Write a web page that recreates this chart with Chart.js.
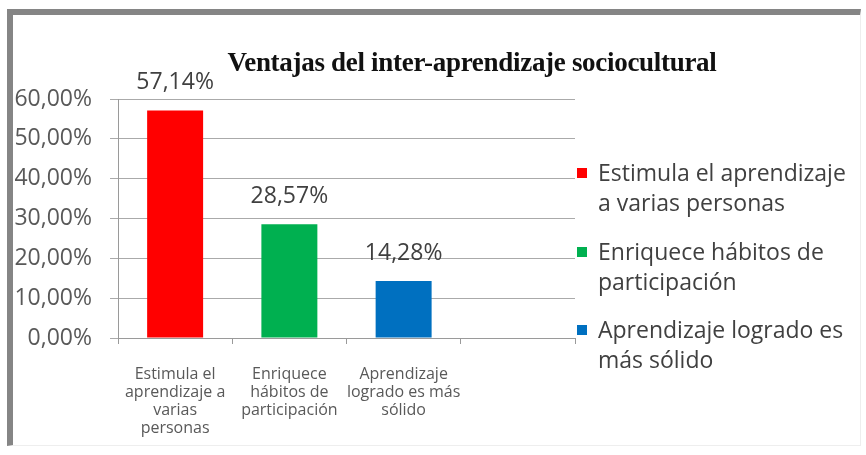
<!DOCTYPE html>
<html>
<head>
<meta charset="utf-8">
<script src="https://cdn.jsdelivr.net/npm/chart.js@4/dist/chart.umd.min.js"></script>
<style>
  html, body { margin: 0; padding: 0; background: #fff; }
  #wrap { position: relative; width: 866px; height: 455px; overflow: hidden; }
  #frame { position: absolute; left: 7px; top: 9px; right: 5px; bottom: 9px;
           border-top: 6px solid #858585; border-left: 6px solid #858585;
           border-right: 1px solid #eeeeee; border-bottom: 1px solid #eeeeee; }
  #chart { position: absolute; left: 0; top: 0; }
  #title { position: absolute; left: 172px; width: 600px; top: 45px; text-align: center;
           font-family: "Liberation Serif", serif; font-weight: bold; font-size: 27px;
           letter-spacing: -0.3px; color: #111; white-space: nowrap; line-height: 34px; }
  .leg { position: absolute; left: 577px; font-family: "Open Sans", sans-serif; font-size: 23px;
         line-height: 29.5px; color: #404040; }
  .leg i { position: absolute; left: 0; top: 10px; width: 10px; height: 10px; }
  .leg span { display: block; margin-left: 21px; white-space: nowrap; }
</style>
</head>
<body>
<div id="wrap">
  <canvas id="chart" width="866" height="455"></canvas>
  <div id="frame"></div>
  <div id="title"></div>
  <div id="legend"></div>
</div>
<script>
// data
var chartTitle = 'Ventajas del inter-aprendizaje sociocultural';
var categories = [
    ['Estimula el', 'aprendizaje a', 'varias', 'personas'],
    ['Enriquece', 'hábitos de', 'participación'],
    ['Aprendizaje', 'logrado es más', 'sólido'],
    ''
];
var values = [57.14, 28.57, 14.28, null];
var barColors = ['#ff0000', '#00b050', '#0070c0', '#ffffff'];
var legendLabels = [
    ['Estimula el aprendizaje', 'a varias personas'],
    ['Enriquece hábitos de', 'participación'],
    ['Aprendizaje logrado es', 'más sólido']
];
var legendTops = [158, 237, 315];

function pct(v) {
    return v.toFixed(2).replace('.', ',') + '%';
}

document.getElementById('title').textContent = chartTitle;

var legendHtml = '';
legendLabels.forEach(function (lines, i) {
    legendHtml += '<div class="leg" style="top:' + legendTops[i] + 'px"><i style="background:' + barColors[i] + '"></i>';
    lines.forEach(function (l) { legendHtml += '<span>' + l + '</span>'; });
    legendHtml += '</div>';
});
document.getElementById('legend').innerHTML = legendHtml;

// value labels above the bars
var barValueLabels = {
    id: 'barValueLabels',
    afterDatasetsDraw: function (chart) {
        var ctx = chart.ctx;
        var meta = chart.getDatasetMeta(0);
        ctx.save();
        ctx.font = '23px "Open Sans"';
        ctx.fillStyle = '#404040';
        ctx.textAlign = 'center';
        ctx.textBaseline = 'middle';
        meta.data.forEach(function (bar, i) {
            if (values[i] == null) return;
            ctx.fillText(pct(values[i]), bar.x, bar.y - 28);
        });
        ctx.restore();
    }
};

var ctx = document.getElementById('chart').getContext('2d');
window.myChart = new Chart(ctx, {
    type: 'bar',
    data: {
        labels: categories,
        datasets: [{
            data: values,
            backgroundColor: barColors,
            barPercentage: 0.49,
            categoryPercentage: 1
        }]
    },
    options: {
        responsive: false,
        animation: false,
        devicePixelRatio: 1,
        layout: { padding: { left: 0, top: 99, right: 291, bottom: 0 } },
        plugins: {
            legend: { display: false },
            title: { display: false },
            tooltip: { enabled: false }
        },
        scales: {
            x: {
                grid: { offset: true, drawOnChartArea: false, drawTicks: true, tickLength: 6, color: '#9a9a9a' },
                border: { color: '#9a9a9a' },
                ticks: {
                    maxRotation: 0, autoSkip: false, padding: 21, color: '#595959',
                    font: { family: 'Open Sans', size: 16, lineHeight: '18px' }
                },
                afterFit: function (scale) { scale.height = 117; }
            },
            y: {
                min: 0,
                max: 60,
                grid: { color: '#aaaaaa', tickLength: 8 },
                border: { color: '#9a9a9a' },
                ticks: {
                    stepSize: 10, padding: 18, color: '#595959',
                    font: { family: 'Open Sans', size: 23 },
                    callback: function (v) { return pct(v); }
                },
                afterFit: function (scale) { scale.width = 118; }
            }
        }
    },
    plugins: [barValueLabels]
});
</script>
</body>
</html>
